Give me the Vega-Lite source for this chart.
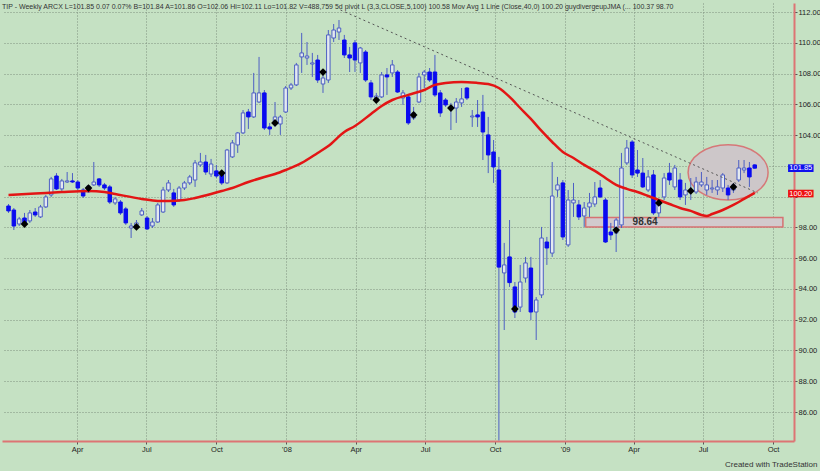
{
"$schema":"https://vega.github.io/schema/vega-lite/v6.json",
"width":792,"height":438,
"autosize":{"type":"none"},
"padding":{"left":2,"top":3,"right":26,"bottom":30},
"background":"#c5e1c3",
"config":{"view":{"stroke":null,"fill":"#c5e1c3"},"font":"Liberation Sans"},
"title":{"text":"TIP - Weekly  ARCX  L=101.85  0.07  0.07%  B=101.84  A=101.86  O=102.06  Hi=102.11  Lo=101.82  V=488,759  5d pivot L (3,3,CLOSE,5,100)  100.58  Mov Avg 1 Line (Close,40,0)  100.20  guydivergeupJMA (...  100.37  98.70","anchor":"start","frame":"group","fontSize":7,"fontWeight":"normal","color":"#333333","baseline":"top","offset":-7},
"datasets":{
"bars":[
{"date":"2007-01-01","o":99.39,"h":99.52,"l":98.94,"c":99.07},
{"date":"2007-01-08","o":99.13,"h":99.26,"l":97.83,"c":98.09},
{"date":"2007-01-15","o":98.22,"h":98.68,"l":98.09,"c":98.55},
{"date":"2007-01-22","o":98.61,"h":98.94,"l":98.09,"c":98.22,"p":98.22},
{"date":"2007-01-29","o":98.42,"h":99.13,"l":98.29,"c":98.94},
{"date":"2007-02-05","o":99.0,"h":99.26,"l":98.68,"c":98.81},
{"date":"2007-02-12","o":98.68,"h":99.46,"l":98.61,"c":99.33},
{"date":"2007-02-19","o":99.33,"h":100.11,"l":99.26,"c":99.98},
{"date":"2007-02-26","o":100.11,"h":101.28,"l":99.98,"c":101.15},
{"date":"2007-03-05","o":101.34,"h":101.53,"l":100.43,"c":100.5},
{"date":"2007-03-12","o":100.5,"h":101.15,"l":100.37,"c":101.02},
{"date":"2007-03-19","o":100.95,"h":101.6,"l":100.89,"c":101.02},
{"date":"2007-03-26","o":101.02,"h":101.53,"l":100.89,"c":100.95},
{"date":"2007-04-02","o":100.95,"h":101.08,"l":100.43,"c":100.56},
{"date":"2007-04-09","o":100.43,"h":100.56,"l":99.91,"c":100.04},
{"date":"2007-04-16","o":100.3,"h":100.76,"l":100.24,"c":100.69,"p":100.56},
{"date":"2007-04-23","o":100.76,"h":102.25,"l":100.69,"c":100.95},
{"date":"2007-04-30","o":101.15,"h":101.21,"l":100.63,"c":100.76},
{"date":"2007-05-07","o":100.76,"h":100.89,"l":100.43,"c":100.56},
{"date":"2007-05-14","o":100.63,"h":100.76,"l":99.52,"c":99.65},
{"date":"2007-05-21","o":99.59,"h":99.98,"l":99.46,"c":99.85},
{"date":"2007-05-28","o":99.65,"h":99.78,"l":98.81,"c":98.94},
{"date":"2007-06-04","o":99.2,"h":99.33,"l":98.16,"c":98.29},
{"date":"2007-06-11","o":97.96,"h":98.29,"l":97.31,"c":98.09},
{"date":"2007-06-18","o":98.03,"h":98.48,"l":97.9,"c":98.29,"p":98.03},
{"date":"2007-06-25","o":98.81,"h":99.26,"l":98.74,"c":99.07},
{"date":"2007-07-02","o":98.61,"h":98.74,"l":97.83,"c":97.9},
{"date":"2007-07-09","o":98.09,"h":98.61,"l":97.96,"c":98.35},
{"date":"2007-07-16","o":98.35,"h":99.59,"l":98.29,"c":99.46},
{"date":"2007-07-23","o":99.0,"h":100.63,"l":98.94,"c":100.43},
{"date":"2007-07-30","o":100.43,"h":101.08,"l":100.3,"c":100.89},
{"date":"2007-08-06","o":100.24,"h":100.5,"l":99.33,"c":99.46},
{"date":"2007-08-13","o":99.78,"h":100.69,"l":99.65,"c":100.56},
{"date":"2007-08-20","o":100.56,"h":101.02,"l":100.43,"c":100.89},
{"date":"2007-08-27","o":100.89,"h":101.41,"l":100.76,"c":101.28},
{"date":"2007-09-03","o":101.08,"h":102.38,"l":100.63,"c":102.19},
{"date":"2007-09-10","o":102.06,"h":102.84,"l":101.93,"c":102.25},
{"date":"2007-09-17","o":102.25,"h":102.71,"l":101.41,"c":101.6},
{"date":"2007-09-24","o":101.47,"h":102.45,"l":101.28,"c":102.12},
{"date":"2007-10-01","o":101.67,"h":102.06,"l":101.21,"c":101.34},
{"date":"2007-10-08","o":101.6,"h":101.73,"l":100.76,"c":100.89,"p":101.53},
{"date":"2007-10-15","o":100.89,"h":103.1,"l":100.82,"c":103.03},
{"date":"2007-10-22","o":102.58,"h":103.68,"l":102.51,"c":103.49},
{"date":"2007-10-29","o":103.36,"h":104.2,"l":102.84,"c":104.14},
{"date":"2007-11-05","o":104.14,"h":105.63,"l":104.07,"c":105.44},
{"date":"2007-11-12","o":105.5,"h":105.7,"l":104.4,"c":105.18},
{"date":"2007-11-19","o":105.18,"h":108.04,"l":105.11,"c":106.74},
{"date":"2007-11-26","o":106.15,"h":109.08,"l":106.09,"c":106.74},
{"date":"2007-12-03","o":106.74,"h":106.93,"l":104.33,"c":104.46},
{"date":"2007-12-10","o":104.53,"h":104.79,"l":104.01,"c":104.4},
{"date":"2007-12-17","o":104.66,"h":106.15,"l":104.53,"c":105.18,"p":104.79},
{"date":"2007-12-24","o":104.72,"h":105.31,"l":104.01,"c":105.18},
{"date":"2007-12-31","o":105.5,"h":107.19,"l":105.44,"c":107.06},
{"date":"2008-01-07","o":107.06,"h":107.39,"l":106.93,"c":107.26},
{"date":"2008-01-14","o":107.26,"h":108.69,"l":107.19,"c":108.56},
{"date":"2008-01-21","o":109.08,"h":110.64,"l":108.04,"c":109.34},
{"date":"2008-01-28","o":109.01,"h":110.05,"l":108.56,"c":109.14},
{"date":"2008-02-04","o":108.62,"h":109.34,"l":107.78,"c":108.69},
{"date":"2008-02-11","o":108.88,"h":109.21,"l":107.39,"c":107.58},
{"date":"2008-02-18","o":107.32,"h":108.04,"l":106.74,"c":107.71,"p":108.1},
{"date":"2008-02-25","o":107.58,"h":110.83,"l":107.39,"c":110.51},
{"date":"2008-03-03","o":110.31,"h":111.22,"l":110.05,"c":110.83},
{"date":"2008-03-10","o":110.7,"h":111.48,"l":110.18,"c":110.96},
{"date":"2008-03-17","o":110.18,"h":110.51,"l":109.01,"c":109.21},
{"date":"2008-03-24","o":109.21,"h":109.73,"l":108.1,"c":109.01},
{"date":"2008-03-31","o":109.99,"h":110.18,"l":108.1,"c":108.88},
{"date":"2008-04-07","o":108.69,"h":109.73,"l":108.04,"c":109.66},
{"date":"2008-04-14","o":109.4,"h":109.53,"l":107.45,"c":107.58},
{"date":"2008-04-21","o":107.39,"h":107.58,"l":106.28,"c":106.48},
{"date":"2008-04-28","o":106.28,"h":106.74,"l":106.15,"c":106.54,"p":106.28},
{"date":"2008-05-05","o":106.48,"h":108.1,"l":106.41,"c":107.91},
{"date":"2008-05-12","o":107.91,"h":108.36,"l":106.61,"c":107.78},
{"date":"2008-05-19","o":108.04,"h":108.88,"l":107.78,"c":108.56},
{"date":"2008-05-26","o":108.1,"h":108.23,"l":106.74,"c":106.8},
{"date":"2008-06-02","o":106.41,"h":106.93,"l":105.96,"c":106.74},
{"date":"2008-06-09","o":106.48,"h":106.61,"l":104.66,"c":104.79},
{"date":"2008-06-16","o":105.11,"h":105.83,"l":104.98,"c":105.44,"p":105.31},
{"date":"2008-06-23","o":106.15,"h":108.04,"l":106.09,"c":107.78},
{"date":"2008-06-30","o":107.91,"h":108.23,"l":107.06,"c":108.1},
{"date":"2008-07-07","o":108.1,"h":108.36,"l":107.45,"c":107.58},
{"date":"2008-07-14","o":108.1,"h":109.21,"l":106.48,"c":106.61},
{"date":"2008-07-21","o":106.74,"h":106.93,"l":105.18,"c":105.44},
{"date":"2008-07-28","o":106.28,"h":106.41,"l":105.83,"c":105.96},
{"date":"2008-08-04","o":105.76,"h":106.09,"l":104.33,"c":105.89,"p":105.76},
{"date":"2008-08-11","o":105.76,"h":106.41,"l":104.79,"c":106.15},
{"date":"2008-08-18","o":106.09,"h":107.06,"l":105.83,"c":106.35},
{"date":"2008-08-25","o":107.06,"h":107.12,"l":106.28,"c":106.41},
{"date":"2008-09-01","o":105.18,"h":105.63,"l":104.53,"c":105.24},
{"date":"2008-09-08","o":105.31,"h":106.28,"l":104.53,"c":105.18},
{"date":"2008-09-15","o":105.5,"h":106.61,"l":102.38,"c":104.2},
{"date":"2008-09-22","o":104.01,"h":105.18,"l":101.53,"c":102.71},
{"date":"2008-09-29","o":102.9,"h":103.68,"l":100.89,"c":101.93},
{"date":"2008-10-06","o":101.73,"h":102.58,"l":84.15,"c":95.42},
{"date":"2008-10-13","o":95.04,"h":96.99,"l":91.33,"c":95.56},
{"date":"2008-10-20","o":96.08,"h":98.48,"l":94.13,"c":94.41},
{"date":"2008-10-27","o":94.13,"h":94.45,"l":92.11,"c":92.5,"p":92.7},
{"date":"2008-11-03","o":92.82,"h":95.56,"l":92.5,"c":94.45},
{"date":"2008-11-10","o":94.71,"h":96.08,"l":94.41,"c":95.69},
{"date":"2008-11-17","o":95.36,"h":96.08,"l":91.98,"c":92.5},
{"date":"2008-11-24","o":92.5,"h":93.47,"l":90.68,"c":93.28},
{"date":"2008-12-01","o":93.61,"h":98.03,"l":93.41,"c":97.31},
{"date":"2008-12-08","o":97.05,"h":97.38,"l":95.56,"c":96.66},
{"date":"2008-12-15","o":96.33,"h":102.25,"l":96.08,"c":100.04},
{"date":"2008-12-22","o":100.43,"h":101.28,"l":99.98,"c":100.76},
{"date":"2008-12-29","o":100.89,"h":101.08,"l":97.18,"c":97.38},
{"date":"2009-01-05","o":96.86,"h":100.43,"l":96.73,"c":99.78},
{"date":"2009-01-12","o":99.59,"h":100.89,"l":98.68,"c":99.78},
{"date":"2009-01-19","o":99.46,"h":99.78,"l":98.48,"c":98.68},
{"date":"2009-01-26","o":98.74,"h":99.65,"l":98.03,"c":99.26},
{"date":"2009-02-02","o":99.33,"h":100.24,"l":98.68,"c":99.59},
{"date":"2009-02-09","o":99.52,"h":100.95,"l":99.33,"c":99.98},
{"date":"2009-02-16","o":100.56,"h":101.08,"l":99.91,"c":99.98},
{"date":"2009-02-23","o":99.78,"h":99.91,"l":96.99,"c":97.05},
{"date":"2009-03-02","o":97.7,"h":98.29,"l":97.18,"c":97.51},
{"date":"2009-03-09","o":97.63,"h":98.61,"l":96.4,"c":98.48,"p":97.83},
{"date":"2009-03-16","o":98.16,"h":102.84,"l":97.96,"c":101.86},
{"date":"2009-03-23","o":102.19,"h":103.68,"l":102.06,"c":103.16},
{"date":"2009-03-30","o":103.55,"h":103.68,"l":101.21,"c":101.41},
{"date":"2009-04-06","o":101.73,"h":103.03,"l":101.28,"c":101.53},
{"date":"2009-04-13","o":101.53,"h":102.51,"l":100.56,"c":100.63},
{"date":"2009-04-20","o":100.43,"h":101.73,"l":100.3,"c":101.28},
{"date":"2009-04-27","o":101.41,"h":101.73,"l":98.81,"c":98.94},
{"date":"2009-05-04","o":98.94,"h":99.78,"l":98.68,"c":99.59,"p":99.59},
{"date":"2009-05-11","o":99.98,"h":101.53,"l":99.78,"c":101.21},
{"date":"2009-05-18","o":101.53,"h":102.19,"l":100.76,"c":101.08},
{"date":"2009-05-25","o":100.63,"h":102.06,"l":100.43,"c":101.86},
{"date":"2009-06-01","o":101.08,"h":101.53,"l":99.78,"c":99.98},
{"date":"2009-06-08","o":100.11,"h":100.89,"l":99.46,"c":100.43},
{"date":"2009-06-15","o":100.3,"h":101.21,"l":99.78,"c":100.43,"p":100.37},
{"date":"2009-06-22","o":100.3,"h":101.28,"l":100.17,"c":100.95},
{"date":"2009-06-29","o":100.76,"h":101.6,"l":100.63,"c":100.95},
{"date":"2009-07-06","o":100.43,"h":101.28,"l":100.11,"c":100.76},
{"date":"2009-07-13","o":100.5,"h":101.08,"l":100.24,"c":100.56},
{"date":"2009-07-20","o":100.43,"h":101.08,"l":100.11,"c":100.63},
{"date":"2009-07-27","o":100.56,"h":101.53,"l":100.3,"c":101.41},
{"date":"2009-08-03","o":100.56,"h":100.76,"l":99.78,"c":100.11},
{"date":"2009-08-10","o":100.43,"h":100.89,"l":100.24,"c":100.76,"p":100.63},
{"date":"2009-08-17","o":101.08,"h":102.38,"l":100.95,"c":101.86},
{"date":"2009-08-24","o":101.73,"h":102.38,"l":101.53,"c":101.86},
{"date":"2009-08-31","o":101.86,"h":102.25,"l":100.63,"c":101.28},
{"date":"2009-09-07","o":102.06,"h":102.11,"l":101.82,"c":101.85}
],
"ma":[
{"date":"2007-01-01","v":100.11},{"date":"2007-02-05","v":100.2},{"date":"2007-03-12","v":100.3},{"date":"2007-04-16","v":100.37},{"date":"2007-05-07","v":100.3},{"date":"2007-05-21","v":100.17},{"date":"2007-06-25","v":99.85},{"date":"2007-07-16","v":99.72},{"date":"2007-07-30","v":99.72},{"date":"2007-08-20","v":99.78},{"date":"2007-09-03","v":99.91},{"date":"2007-09-24","v":100.17},{"date":"2007-10-08","v":100.37},{"date":"2007-10-22","v":100.56},{"date":"2007-11-12","v":100.95},{"date":"2007-12-03","v":101.28},{"date":"2007-12-17","v":101.47},{"date":"2007-12-31","v":101.73},{"date":"2008-01-21","v":102.19},{"date":"2008-02-11","v":102.84},{"date":"2008-02-25","v":103.29},{"date":"2008-03-17","v":104.2},{"date":"2008-03-31","v":104.59},{"date":"2008-04-21","v":105.37},{"date":"2008-05-05","v":105.89},{"date":"2008-05-19","v":106.28},{"date":"2008-06-09","v":106.61},{"date":"2008-06-30","v":106.93},{"date":"2008-07-14","v":107.26},{"date":"2008-07-28","v":107.39},{"date":"2008-08-18","v":107.45},{"date":"2008-09-08","v":107.39},{"date":"2008-09-22","v":107.32},{"date":"2008-10-06","v":107.06},{"date":"2008-10-20","v":106.48},{"date":"2008-11-03","v":105.76},{"date":"2008-11-17","v":105.05},{"date":"2008-12-01","v":104.27},{"date":"2008-12-15","v":103.55},{"date":"2008-12-29","v":102.9},{"date":"2009-01-12","v":102.51},{"date":"2009-01-26","v":102.06},{"date":"2009-02-09","v":101.67},{"date":"2009-02-23","v":101.21},{"date":"2009-03-09","v":100.76},{"date":"2009-03-23","v":100.5},{"date":"2009-04-06","v":100.3},{"date":"2009-04-20","v":100.04},{"date":"2009-05-04","v":99.78},{"date":"2009-05-18","v":99.52},{"date":"2009-06-01","v":99.26},{"date":"2009-06-15","v":99.07},{"date":"2009-06-29","v":98.81},{"date":"2009-07-06","v":98.74},{"date":"2009-07-13","v":98.87},{"date":"2009-07-27","v":99.13},{"date":"2009-08-10","v":99.46},{"date":"2009-08-24","v":99.85},{"date":"2009-09-07","v":100.24}
],
"trend":[{"date":"2008-03-12","v":112.13},{"date":"2009-09-11","v":100.24}],
"zone":[{"date":"2009-01-28","date2":"2009-10-14","top":98.64,"bottom":98.02,"ldate":"2009-04-16","lv":98.33,"label":"98.64"}],
"oval":[{"date":"2009-08-03","v":101.57}],
"tags":[{"date":"2009-11-06T12:00:00Z","v":101.85,"label":"101.85","bg":"#1010ee"},{"date":"2009-11-06T12:00:00Z","v":100.2,"label":"100.20","bg":"#ee1010"}]
},
"layer":[
{"data":{"name":"oval"},
 "mark":{"type":"point","shape":"M-1,0A1,0.69 0 1,1 1,0A1,0.69 0 1,1 -1,0Z","size":6400,"filled":true,"fill":"#cdc7c9","fillOpacity":1,"stroke":"#d67878","strokeWidth":1.5},
 "encoding":{
  "x":{"field":"date","type":"temporal","scale":{"type":"utc","domain":[{"year":2006,"month":12,"date":30,"utc":true},{"year":2009,"month":10,"date":22,"utc":true}]},
   "axis":{"values":[{"year":2007,"month":4,"date":1,"utc":true},{"year":2007,"month":7,"date":1,"utc":true},{"year":2007,"month":10,"date":1,"utc":true},{"year":2008,"month":1,"date":1,"utc":true},{"year":2008,"month":4,"date":1,"utc":true},{"year":2008,"month":7,"date":1,"utc":true},{"year":2008,"month":10,"date":1,"utc":true},{"year":2009,"month":1,"date":1,"utc":true},{"year":2009,"month":4,"date":1,"utc":true},{"year":2009,"month":7,"date":1,"utc":true},{"year":2009,"month":10,"date":1,"utc":true}],
    "labelExpr":"utcmonth(datum.value) == 0 ? \"'\" + utcFormat(datum.value, '%y') : utcFormat(datum.value, '%b')",
    "tickCount":30,
    "grid":true,"gridColor":"#7f917f","gridDash":[1,2],"gridOpacity":1,"gridWidth":1,
    "domain":true,"domainColor":"#dd7474","domainWidth":2,
    "ticks":true,"tickColor":"#555555","tickSize":3,
    "labelFontSize":7.5,"labelColor":"#222222","labelPadding":1,"labelFlush":false,"labelOverlap":false,
    "title":"Created with TradeStation","titleFontSize":8,"titleFontWeight":"normal","titleColor":"#333333","titleAnchor":"end","titleAlign":"right","titleX":815,"titleY":27,"titleBaseline":"bottom"}},
  "y":{"field":"v","type":"quantitative","scale":{"domain":[84.116,112.585],"nice":false,"zero":false},
   "axis":{"orient":"right","values":[86,88,90,92,94,96,98,100,102,104,106,108,110,112],"tickCount":30,
    "labelExpr":"datum.value == 100 || datum.value == 102 ? '' : format(datum.value, '.2f')",
    "grid":true,"gridColor":"#7f917f","gridDash":[1,2],"gridOpacity":1,"gridWidth":1,
    "domain":true,"domainColor":"#dd7474","domainWidth":2,
    "ticks":true,"tickColor":"#555555","tickSize":3,
    "labelFontSize":7.5,"labelColor":"#222222","labelPadding":1,"labelOverlap":false,"labelFlush":false,"title":null}}
 }},
{"data":{"name":"zone"},
 "mark":{"type":"rect","fill":"#d2cacd","stroke":"#d67272","strokeWidth":1.5},
 "encoding":{
  "x":{"field":"date","type":"temporal"},"x2":{"field":"date2"},
  "y":{"field":"top","type":"quantitative","title":null},"y2":{"field":"bottom"}}},
{"data":{"name":"bars"},
 "mark":{"type":"rule","color":"#4d5fc4","strokeWidth":1},
 "encoding":{
  "x":{"field":"date","type":"temporal"},
  "y":{"field":"l","type":"quantitative","title":null},"y2":{"field":"h"}}},
{"data":{"name":"bars"},
 "mark":{"type":"bar","size":3.5,"strokeWidth":1},
 "encoding":{
  "x":{"field":"date","type":"temporal"},
  "y":{"field":"o","type":"quantitative","title":null},"y2":{"field":"c"},
  "fill":{"condition":{"test":"datum.c < datum.o","value":"#0a0af0"},"value":"#e4eaf0"},
  "stroke":{"condition":{"test":"datum.c < datum.o","value":"#0a0af0"},"value":"#4d5fc4"}}},
{"data":{"name":"ma"},
 "mark":{"type":"line","color":"#e31515","strokeWidth":2.5,"interpolate":"monotone"},
 "encoding":{
  "x":{"field":"date","type":"temporal"},
  "y":{"field":"v","type":"quantitative","title":null}}},
{"data":{"name":"trend"},
 "mark":{"type":"line","color":"#555555","strokeWidth":1,"strokeDash":[2,3]},
 "encoding":{
  "x":{"field":"date","type":"temporal"},
  "y":{"field":"v","type":"quantitative","title":null}}},
{"data":{"name":"bars"},
 "mark":{"type":"point","shape":"diamond","filled":true,"color":"#000000","size":60,"opacity":1},
 "encoding":{
  "x":{"field":"date","type":"temporal"},
  "y":{"field":"p","type":"quantitative","title":null}}},
{"data":{"name":"zone"},
 "mark":{"type":"text","fontSize":10,"fontWeight":"bold","color":"#333333","align":"center","baseline":"middle"},
 "encoding":{
  "x":{"field":"ldate","type":"temporal"},
  "y":{"field":"lv","type":"quantitative","title":null},
  "text":{"field":"label"}}},
{"data":{"name":"tags"},
 "mark":{"type":"point","shape":"M-1,-0.3L1,-0.3L1,0.3L-1,0.3Z","size":650,"filled":true,"opacity":1},
 "encoding":{
  "x":{"field":"date","type":"temporal"},
  "y":{"field":"v","type":"quantitative","title":null},
  "fill":{"field":"bg","type":"nominal","scale":null}}},
{"data":{"name":"tags"},
 "mark":{"type":"text","fontSize":7.5,"color":"#ffffff","align":"center","baseline":"middle"},
 "encoding":{
  "x":{"field":"date","type":"temporal"},
  "y":{"field":"v","type":"quantitative","title":null},
  "text":{"field":"label"}}}
]
}
